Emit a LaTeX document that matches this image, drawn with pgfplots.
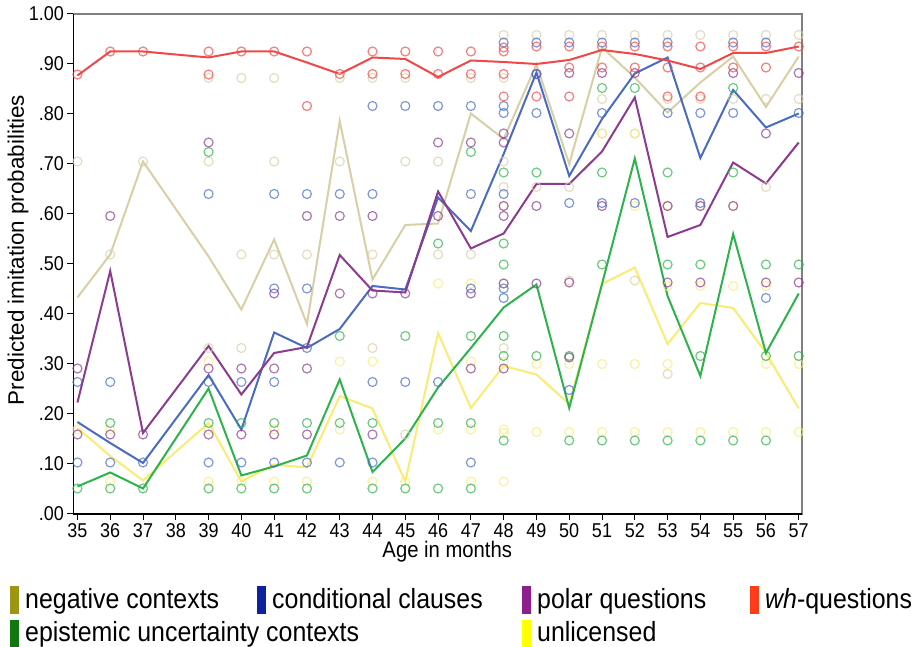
\documentclass[border=0pt]{standalone}
\usepackage{pgfplots}
\pgfplotsset{compat=1.18}
\usepackage{pgfplotstable}
\usepackage{fontspec}
\setmainfont{Liberation Sans}[FakeStretch=0.9]
\newfontfamily\ylfont{Liberation Sans}

\definecolor{cred}{HTML}{F04848}
\definecolor{ctan}{HTML}{D7CFA6}
\definecolor{cblue}{HTML}{4A6CC0}
\definecolor{cpurple}{HTML}{8B3C90}
\definecolor{cgreen}{HTML}{2EB34C}
\definecolor{cyellow}{HTML}{F8EC74}
\definecolor{lneg}{HTML}{9D9612}
\definecolor{lcond}{HTML}{0C22A0}
\definecolor{lpolar}{HTML}{8E1E8E}
\definecolor{lwh}{HTML}{FF3C1A}
\definecolor{lepi}{HTML}{10780E}
\definecolor{lunl}{HTML}{FFFF00}

% mean predicted probabilities per age (no data at 38)
\pgfplotstableread{
age  neg   cond  polar wh    epi   unl
35   .433  .184  .223  .877  .055  .172
36   .519  .142  .486  .925  .083  .116
37   .705  .102  .162  .925  .051  .067
39   .515  .278  .336  .913  .251  .182
40   .409  .169  .239  .925  .077  .065
41   .549  .363  .322  .925  .095  .099
42   .380  .332  .334  .903  .117  .093
43   .786  .370  .518  .880  .269  .236
44   .469  .456  .447  .913  .084  .211
45   .578  .449  .443  .910  .151  .065
46   .581  .633  .645  .874  .253  .362
47   .801  .566  .531  .907  .332  .212
48   .750  .720  .561  .904  .413  .296
49   .899  .883  .660  .900  .459  .279
50   .700  .676  .660  .908  .212  .220
51   .933  .790  .725  .928  .460  .460
52   .873  .881  .833  .920  .711  .493
53   .803  .913  .554  .907  .436  .340
54   .863  .712  .578  .890  .276  .422
55   .915  .848  .703  .922  .560  .412
56   .814  .773  .661  .922  .322  .322
57   .915  .801  .743  .935  .441  .211
}\means

\begin{document}
\begin{tikzpicture}
\useasboundingbox (0pt,0pt) rectangle (914pt,647pt);
\begin{axis}[
  scale only axis,
  width=728.5pt, height=500pt,
  at={(73.5pt,133pt)}, anchor=south west,
  xmin=34.88, xmax=57.1, ymin=0, ymax=1,
  xtick={35,...,57},
  ytick={0,.1,.2,.3,.4,.5,.6,.7,.8,.9,1},
  yticklabels={.00,.10,.20,.30,.40,.50,.60,.70,.80,.90,1.00},
  /pgf/number format/assume math mode=true,
  tick pos=left, tick align=outside,
  major tick length=6pt,
  every tick/.style={black, line width=1pt},
  axis line style={draw=gray, line width=1.2pt},
  ticklabel style={font=\fontsize{20}{22}\selectfont},
  xlabel={Age in months},
  ylabel={Predicted imitation probabilities},
  xlabel style={font=\fontsize{22.5}{24}\selectfont, at={(axis description cs:0.513,-0.076)}, anchor=center},
  ylabel style={font=\ylfont\fontsize{22.4}{24}\selectfont, at={(axis description cs:-0.0762,0.528)}, anchor=center},
  clip=false,
  circ/.style={only marks, mark=o, mark size=4.5pt, mark options={line width=1.2pt, draw opacity=0.7}},
]
% individual predictions
\addplot[circ, ctan] coordinates {
(35,.705) (36,.519) (37,.705) (39,.872) (39,.705) (39,.332)
(40,.872) (40,.519) (40,.332) (41,.872) (41,.705) (41,.519) (42,.519)
(43,.872) (43,.705) (44,.872) (44,.519) (44,.332) (45,.872) (45,.705) (45,.159)
(46,.705) (46,.519) (47,.872) (47,.519)
(48,.958) (48,.872) (48,.705) (48,.654) (48,.332) (49,.958) (49,.654)
(50,.958) (50,.654) (50,.467) (51,.958) (51,.830) (51,.761)
(52,.958) (52,.761) (52,.467) (53,.958) (53,.830) (53,.616) (53,.280)
(54,.958) (54,.830) (55,.958) (55,.830) (56,.958) (56,.830) (56,.654)
(57,.958) (57,.830)};
\addplot[circ, cyellow] coordinates {
(35,.169) (36,.169) (36,.065) (39,.305) (39,.169) (39,.065) (40,.065)
(41,.169) (41,.065) (42,.065) (43,.305) (43,.169) (44,.305) (44,.065) (45,.065)
(46,.461) (46,.169) (47,.461) (47,.305) (47,.169) (47,.065)
(48,.616) (48,.461) (48,.305) (48,.169) (48,.162) (48,.065)
(49,.300) (49,.164) (50,.300) (50,.164) (51,.761) (51,.300) (51,.164)
(52,.761) (52,.616) (52,.300) (52,.164) (53,.616) (53,.456) (53,.300) (53,.164)
(54,.616) (54,.456) (54,.164) (55,.616) (55,.456) (55,.164)
(56,.456) (56,.300) (56,.164) (57,.300) (57,.164)};
\addplot[circ, cgreen] coordinates {
(35,.051) (36,.182) (36,.051) (37,.051) (39,.724) (39,.182) (39,.051)
(40,.182) (40,.051) (41,.182) (41,.051) (42,.182) (42,.051) (43,.356) (43,.182)
(44,.182) (44,.051) (45,.356) (45,.051) (46,.541) (46,.182) (46,.051)
(47,.724) (47,.356) (47,.182) (47,.051)
(48,.683) (48,.541) (48,.499) (48,.356) (48,.316) (48,.147) (49,.683) (49,.316)
(50,.316) (50,.147) (51,.852) (51,.683) (51,.499) (51,.147) (52,.852) (52,.147)
(53,.683) (53,.499) (53,.147) (54,.499) (54,.316) (54,.147)
(55,.852) (55,.683) (55,.147) (56,.499) (56,.316) (56,.147) (57,.499) (57,.316)};
\addplot[circ, cpurple] coordinates {
(35,.291) (35,.159) (36,.596) (36,.159) (37,.159) (39,.743) (39,.291) (39,.159)
(40,.291) (40,.159) (41,.441) (41,.291) (41,.159) (42,.596) (42,.291) (42,.159)
(43,.596) (43,.441) (44,.596) (44,.441) (44,.159) (45,.441) (46,.743) (46,.596)
(47,.743) (47,.441) (47,.291)
(48,.761) (48,.743) (48,.616) (48,.596) (48,.461) (48,.291) (49,.880) (49,.616) (49,.461)
(50,.882) (50,.761) (50,.463) (50,.313) (51,.882) (51,.616) (52,.882)
(53,.616) (53,.463) (54,.616) (54,.463) (55,.882) (55,.616)
(56,.761) (56,.463) (57,.882) (57,.463)};
\addplot[circ, cblue] coordinates {
(35,.264) (35,.103) (36,.264) (36,.103) (37,.103) (39,.640) (39,.264) (39,.103)
(40,.264) (40,.103) (41,.640) (41,.451) (41,.264) (41,.103)
(42,.640) (42,.451) (42,.332) (42,.103) (43,.640) (43,.103)
(44,.816) (44,.640) (44,.264) (44,.103) (45,.816) (45,.264) (46,.816) (46,.264)
(47,.816) (47,.640) (47,.451) (47,.103)
(48,.943) (48,.816) (48,.802) (48,.640) (48,.451) (48,.432) (49,.943) (49,.880) (49,.802)
(50,.943) (50,.622) (50,.248) (51,.943) (51,.802) (51,.622) (52,.943) (52,.622)
(53,.943) (53,.802) (54,.802) (54,.622) (55,.943) (55,.802) (56,.943) (56,.432) (57,.802)};
\addplot[circ, cred] coordinates {
(35,.879) (36,.925) (37,.925) (39,.925) (39,.879) (40,.925) (41,.925)
(42,.925) (42,.816) (43,.880) (44,.925) (44,.880) (45,.925) (45,.880)
(46,.925) (46,.880) (47,.925) (47,.880)
(48,.933) (48,.925) (48,.880) (48,.835) (49,.935) (49,.835)
(50,.935) (50,.893) (50,.835) (51,.935) (51,.893) (52,.935) (52,.893)
(53,.935) (53,.893) (53,.835) (54,.935) (54,.893) (54,.835)
(55,.935) (55,.893) (56,.935) (56,.893) (57,.935)};
% means
\addplot[ctan, line width=2pt, no markers] table[x=age, y=neg] {\means};
\addplot[cyellow, line width=2pt, no markers] table[x=age, y=unl] {\means};
\addplot[cgreen, line width=2pt, no markers] table[x=age, y=epi] {\means};
\addplot[cblue, line width=2pt, no markers] table[x=age, y=cond] {\means};
\addplot[cpurple, line width=2pt, no markers] table[x=age, y=polar] {\means};
\addplot[cred, line width=2pt, no markers] table[x=age, y=wh] {\means};
\draw[black, line width=1.2pt] (rel axis cs:0,1) -- (rel axis cs:0,0) -- (rel axis cs:1,0);
\end{axis}
% legend
\begin{scope}[font=\fontsize{27.7}{30}\selectfont]
\fill[lneg]   (10pt,33pt) rectangle (19pt,61pt);
\node[anchor=base west, inner sep=0] at (25pt,38pt) {negative contexts};
\fill[lcond]  (257pt,33pt) rectangle (266pt,61pt);
\node[anchor=base west, inner sep=0] at (272pt,38pt) {conditional clauses};
\fill[lpolar] (522pt,33pt) rectangle (531pt,61pt);
\node[anchor=base west, inner sep=0] at (537pt,38pt) {polar questions};
\fill[lwh]    (750pt,33pt) rectangle (759pt,61pt);
\node[anchor=base west, inner sep=0] at (765pt,38pt) {\textit{wh}-questions};
\fill[lepi]   (10pt,-1pt) rectangle (19pt,27pt);
\node[anchor=base west, inner sep=0] at (25pt,5pt) {epistemic uncertainty contexts};
\fill[lunl]   (522pt,-1pt) rectangle (531pt,27pt);
\node[anchor=base west, inner sep=0] at (537pt,5pt) {unlicensed};
\end{scope}
\end{tikzpicture}
\end{document}
